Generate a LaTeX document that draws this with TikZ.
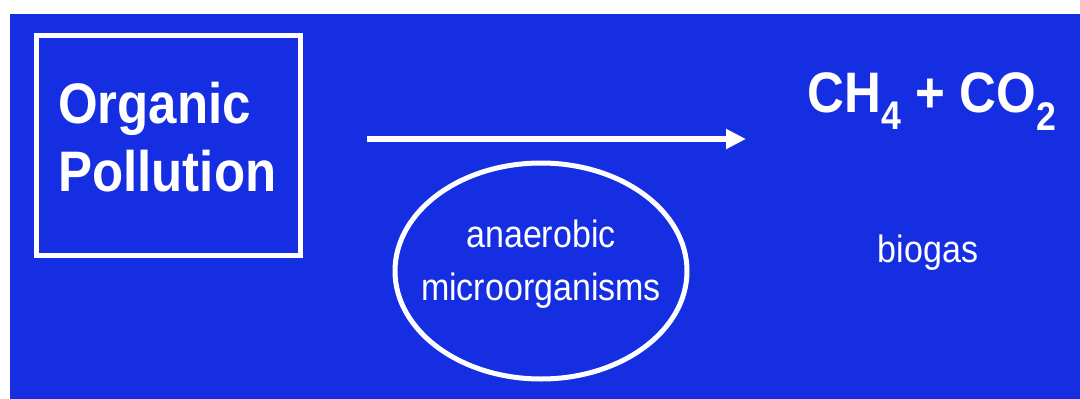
\documentclass[tikz,border=0pt]{standalone}
\usepackage{fontspec}
\usepackage{graphicx}
\setmainfont{Liberation Sans}
\usetikzlibrary{shapes.geometric,arrows.meta}
\definecolor{bgblue}{RGB}{22,46,225}
\newcommand{\vstretch}[1]{\scalebox{1}[1.12]{#1}}
\tikzset{
  wline/.style={draw=white,line width=5pt},
  title/.style={text=white,font=\bfseries\fontsize{51}{61}\selectfont,inner sep=0pt},
  small/.style={text=white,font=\fontsize{34}{48}\selectfont,inner sep=0pt},
}
\begin{document}
\begin{tikzpicture}[x=1pt,y=-1pt]
\useasboundingbox (0,0) rectangle (1080,399);
\fill[white] (0,0) rectangle (1080,399);
\fill[bgblue] (10,14) rectangle (1080,399);
\node[wline,rectangle,minimum width=264,minimum height=220,inner sep=0pt] (box) at (168,145) {};
\node[title,anchor=base west] (org) at (58,123) {\vstretch{\begin{tabular}[t]{@{}l@{}}Organic\\Pollution\end{tabular}}};
\coordinate (a1) at (367,139);
\coordinate (a2) at (746,139);
\draw[draw=white,line width=6pt,-{Triangle[length=20pt,width=19pt]}] (a1) -- (a2);
\node[ellipse,wline,minimum width=292,minimum height=216,inner sep=0pt] (ell) at (541,271) {};
\node[small,anchor=base] (mic) at (541,247) {\vstretch{\begin{tabular}[t]{@{}c@{}}anaerobic\\microorganisms\end{tabular}}};
\node[title,anchor=base] (ch) at (932,112) {\vstretch{CH\textsubscript{4} + CO\textsubscript{2}}};
\node[small,anchor=base] (bio) at (928,262) {\vstretch{biogas}};
\end{tikzpicture}
\end{document}
